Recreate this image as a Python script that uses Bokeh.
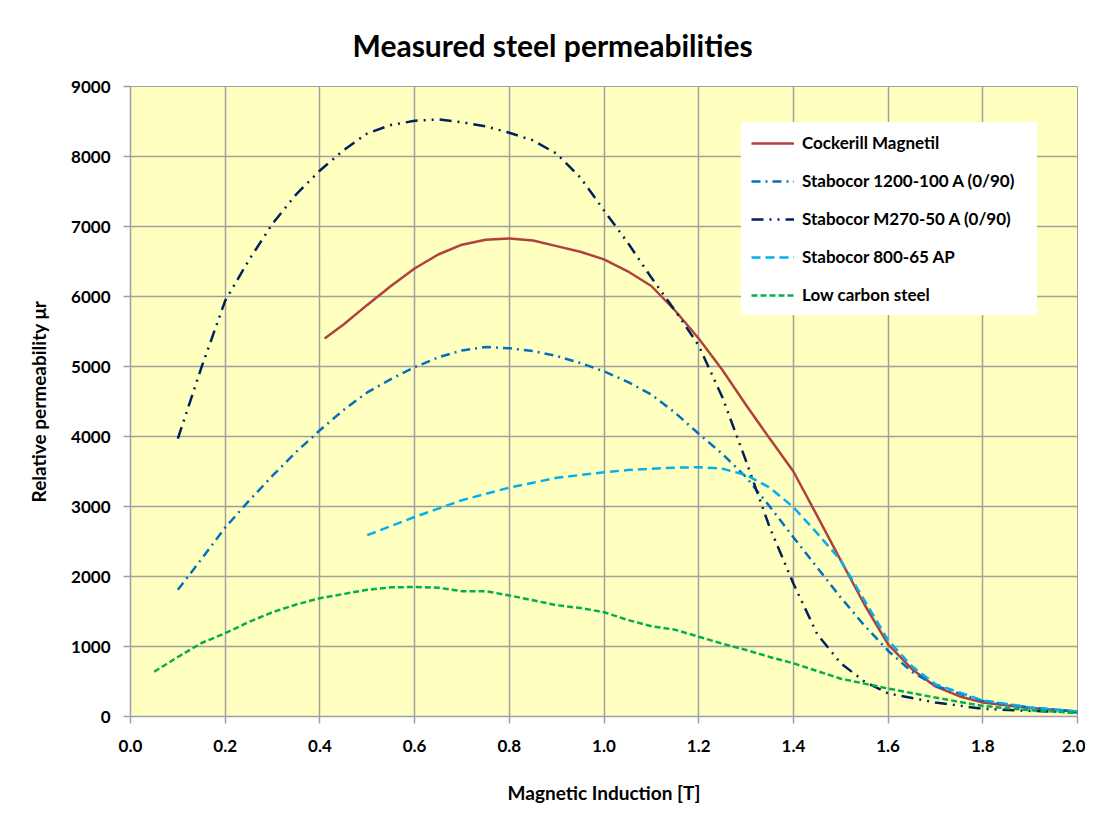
from bokeh.plotting import figure
from bokeh.models import Range1d, FixedTicker, NumeralTickFormatter, Legend, LegendItem
from bokeh.embed import file_html
from bokeh.resources import INLINE

# ---------------- data ----------------
x_ticks = [0.0, 0.2, 0.4, 0.6, 0.8, 1.0, 1.2, 1.4, 1.6, 1.8, 2.0]
y_ticks = [0, 1000, 2000, 3000, 4000, 5000, 6000, 7000, 8000, 9000]

cock_B = [0.41, 0.45, 0.5, 0.55, 0.6, 0.65, 0.7, 0.75, 0.8, 0.85, 0.9, 0.95, 1.0, 1.05, 1.1, 1.15, 1.2,
          1.25, 1.3, 1.35, 1.4, 1.45, 1.5, 1.55, 1.6, 1.65, 1.7, 1.75, 1.8, 1.9, 2.0]
cock_mu = [5400, 5600, 5880, 6150, 6400, 6600, 6740, 6810, 6830, 6800, 6720, 6640, 6530, 6360, 6150, 5800, 5400,
           4950, 4450, 3970, 3500, 2870, 2230, 1600, 1030, 680, 430, 290, 200, 120, 70]

s1200_B = [0.1, 0.15, 0.2, 0.25, 0.3, 0.35, 0.4, 0.45, 0.5, 0.55, 0.6, 0.65, 0.7, 0.75, 0.8, 0.85, 0.9, 0.95,
           1.0, 1.05, 1.1, 1.15, 1.2, 1.25, 1.3, 1.35, 1.4, 1.45, 1.5, 1.55, 1.6, 1.65, 1.7, 1.8, 1.9, 2.0]
s1200_mu = [1810, 2250, 2700, 3080, 3440, 3780, 4090, 4380, 4630, 4820, 4990, 5130, 5230, 5280, 5260, 5220, 5150, 5050,
            4930, 4780, 4600, 4340, 4040, 3750, 3420, 3000, 2560, 2130, 1700, 1300, 940, 640, 440, 220, 130, 70]

m270_B = [0.1, 0.15, 0.2, 0.25, 0.3, 0.35, 0.4, 0.45, 0.5, 0.55, 0.6, 0.65, 0.7, 0.75, 0.8, 0.85, 0.9, 0.95,
          1.0, 1.05, 1.1, 1.15, 1.2, 1.25, 1.3, 1.35, 1.4, 1.45, 1.5, 1.55, 1.6, 1.7, 1.8, 1.9, 2.0]
m270_mu = [3970, 4990, 5940, 6520, 7040, 7460, 7800, 8090, 8330, 8450, 8510, 8530, 8490, 8430, 8340, 8230, 8040, 7700,
           7230, 6770, 6270, 5800, 5300, 4560, 3650, 2700, 1900, 1180, 760, 500, 330, 200, 110, 80, 60]

s800_B = [0.5, 0.55, 0.6, 0.65, 0.7, 0.75, 0.8, 0.85, 0.9, 0.95, 1.0, 1.05, 1.1, 1.15, 1.2, 1.25, 1.3, 1.35,
          1.4, 1.45, 1.5, 1.55, 1.6, 1.65, 1.7, 1.8, 1.9, 2.0]
s800_mu = [2590, 2720, 2850, 2970, 3090, 3180, 3270, 3340, 3410, 3450, 3490, 3520, 3540, 3555, 3560, 3540, 3450, 3270,
           2990, 2620, 2230, 1660, 1090, 720, 460, 230, 130, 70]

lcs_B = [0.05, 0.1, 0.15, 0.2, 0.25, 0.3, 0.35, 0.4, 0.45, 0.5, 0.55, 0.6, 0.65, 0.7, 0.75, 0.8, 0.85, 0.9, 0.95,
         1.0, 1.05, 1.1, 1.15, 1.2, 1.25, 1.3, 1.35, 1.4, 1.45, 1.5, 1.55, 1.6, 1.7, 1.8, 1.9, 2.0]
lcs_mu = [640, 850, 1050, 1190, 1350, 1490, 1600, 1690, 1750, 1810, 1845, 1850, 1840, 1790, 1790, 1730, 1660, 1590, 1550,
          1490, 1380, 1290, 1240, 1140, 1040, 950, 850, 760, 650, 540, 470, 400, 270, 150, 90, 50]

series_names = ["Cockerill Magnetil", "Stabocor 1200-100 A (0/90)", "Stabocor M270-50 A (0/90)",
                "Stabocor 800-65 AP", "Low carbon steel"]

FONT = "Lato"

p = figure(width=1085, height=822, output_backend="svg", toolbar_location=None,
           x_range=Range1d(0, 2), y_range=Range1d(0, 9000),
           min_border_left=130, min_border_right=8, min_border_top=86, min_border_bottom=106,
           background_fill_color="#FFFFC0", border_fill_color="white")
p.outline_line_color = "#A0A0A0"

# title
p.title.text = "Measured steel permeabilities"
p.title.align = "left"
p.title.offset = 222
p.title.text_font = FONT
p.title.text_font_style = "bold"
p.title.text_font_size = "30px"
p.title.text_color = "black"
p.title.standoff = 47

# grid
for g in (p.xgrid, p.ygrid):
    g.grid_line_color = "#A0A0A0"
    g.grid_line_width = 1.5
p.xaxis.ticker = FixedTicker(ticks=x_ticks)
p.yaxis.ticker = FixedTicker(ticks=y_ticks)
p.xgrid.ticker = FixedTicker(ticks=x_ticks)
p.ygrid.ticker = FixedTicker(ticks=y_ticks)
p.xaxis.formatter = NumeralTickFormatter(format="0.0")

for ax in (p.xaxis, p.yaxis):
    ax.axis_line_color = "#A0A0A0"
    ax.axis_line_width = 1.5
    ax.major_tick_line_color = "#A0A0A0"
    ax.major_tick_line_width = 1.5
    ax.major_tick_out = 7
    ax.major_tick_in = 0
    ax.minor_tick_line_color = None
    ax.major_label_text_font = FONT
    ax.major_label_text_font_style = "bold"
    ax.major_label_text_font_size = "17px"
    ax.major_label_text_color = "black"
    ax.axis_label_text_font = FONT
    ax.axis_label_text_font_style = "bold"
    ax.axis_label_text_font_size = "19px"
    ax.axis_label_text_color = "black"

p.xaxis.axis_label = "Magnetic Induction [T]"
p.yaxis.axis_label = "Relative permeability \u03bcr"
p.xaxis.major_label_standoff = 16
p.yaxis.major_label_standoff = 13
p.xaxis.axis_label_standoff = 26
p.yaxis.axis_label_standoff = 18

r1 = p.line(cock_B, cock_mu, line_color="#B0413E", line_width=2.5)
r2 = p.line(s1200_B, s1200_mu, line_color="#0070C0", line_width=2.5, line_dash="9 5 2 5")
r3 = p.line(m270_B, m270_mu, line_color="#002060", line_width=2.5, line_dash="12 6 2 6 2 6")
r4 = p.line(s800_B, s800_mu, line_color="#00B0F0", line_width=2.5, line_dash="9 5")
r5 = p.line(lcs_B, lcs_mu, line_color="#00B050", line_width=2.5, line_dash="6 3")

legend = Legend(items=[LegendItem(label=n, renderers=[r]) for n, r in zip(series_names, [r1, r2, r3, r4, r5])],
                location=(611, 401))
legend.label_text_font = FONT
legend.label_text_font_style = "bold"
legend.label_text_font_size = "17px"
legend.label_text_color = "black"
legend.glyph_width = 43
legend.glyph_height = 20
legend.label_height = 20
legend.label_width = 225
legend.label_standoff = 8
legend.spacing = 17
legend.padding = 10
legend.margin = 0
legend.border_line_alpha = 0
legend.background_fill_color = "white"
legend.background_fill_alpha = 1
p.add_layout(legend)

open("out.html", "w").write(file_html(p, INLINE))
